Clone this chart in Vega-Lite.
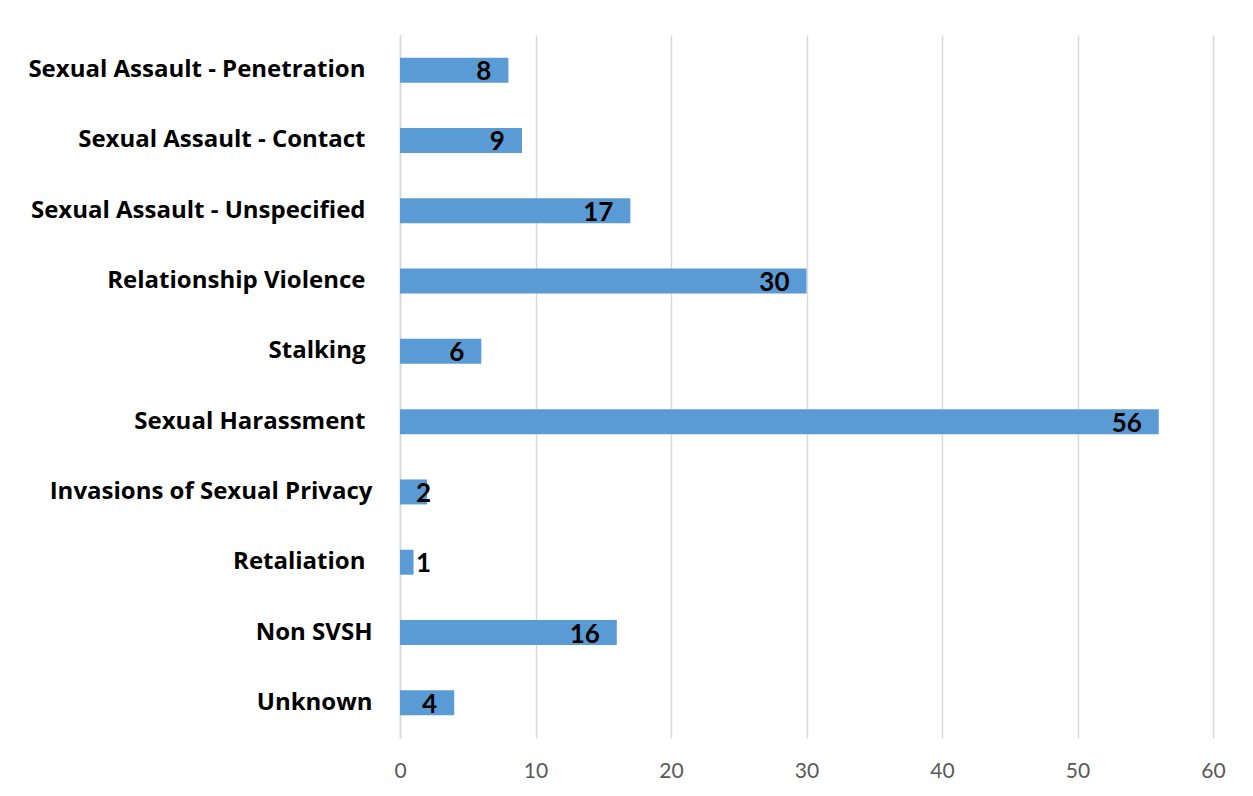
{
  "$schema": "https://vega.github.io/schema/vega-lite/v6.json",
  "width": 813,
  "height": 703,
  "autosize": "none",
  "padding": {"left": 400, "top": 35, "right": 40, "bottom": 58},
  "background": "white",
  "config": {"view": {"stroke": null}, "font": "Lato"},
  "data": {"values": [
    {"category": "Sexual Assault - Penetration", "value": 8},
    {"category": "Sexual Assault - Contact", "value": 9},
    {"category": "Sexual Assault - Unspecified", "value": 17},
    {"category": "Relationship Violence", "value": 30},
    {"category": "Stalking", "value": 6},
    {"category": "Sexual Harassment", "value": 56},
    {"category": "Invasions of Sexual Privacy", "value": 2},
    {"category": "Retaliation", "value": 1},
    {"category": "Non SVSH", "value": 16},
    {"category": "Unknown", "value": 4}
  ]},
  "encoding": {
    "y": {"field": "category", "type": "nominal", "sort": null,
      "scale": {"paddingInner": 0.645, "paddingOuter": 0.3225},
      "axis": {"title": null, "ticks": false,
        "labelPadding": {"condition": {"test": "indexof(['Invasions of Sexual Privacy','Non SVSH','Unknown'], datum.value) >= 0", "value": 28}, "value": 35},
        "labelFont": "Open Sans", "labelFontWeight": "bold", "labelFontSize": 24, "labelColor": "#000000", "labelLimit": 500, "domainColor": "#d9d9d9", "domainWidth": 1.5, "grid": false}},
    "x": {"field": "value", "type": "quantitative",
      "scale": {"domain": [0, 60], "nice": false},
      "axis": {"title": null, "values": [0, 10, 20, 30, 40, 50, 60], "ticks": false, "domain": false, "labelFlush": false, "labelPadding": 22, "labelFont": "Lato", "labelFontSize": 21, "labelColor": "#595959", "gridColor": "#d9d9d9", "gridWidth": 1.5}}
  },
  "layer": [
    {"mark": {"type": "bar", "color": "#5b9bd5"}},
    {"transform": [{"filter": "datum.value >= 3"}],
      "mark": {"type": "text", "align": "right", "baseline": "middle", "dx": -17, "dy": 2, "font": "Lato", "fontWeight": "bold", "fontSize": 26, "color": "#000000"},
      "encoding": {"text": {"field": "value", "type": "quantitative"}}},
    {"transform": [{"filter": "datum.value < 3"}],
      "mark": {"type": "text", "align": "left", "baseline": "middle", "dx": 16, "dy": 2, "font": "Lato", "fontWeight": "bold", "fontSize": 26, "color": "#000000"},
      "encoding": {"x": {"datum": 0}, "text": {"field": "value", "type": "quantitative"}}}
  ]
}
